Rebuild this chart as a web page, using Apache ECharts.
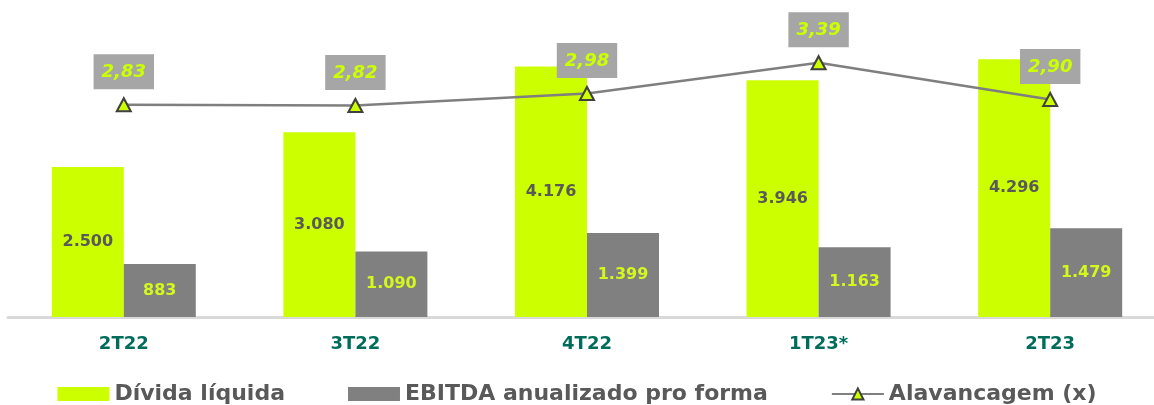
<!DOCTYPE html>
<html>
<head>
<meta charset="utf-8">
<script src="https://cdn.jsdelivr.net/npm/echarts@6/dist/echarts.min.js"></script>
<style>
  html, body { margin: 0; padding: 0; background: #fff; }
  #chart { width: 1154px; height: 405px; }
</style>
</head>
<body>
<div id="chart"></div>
<script>
const categories = ['2T22', '3T22', '4T22', '1T23*', '2T23'];
const netDebt = [2500, 3080, 4176, 3946, 4296];
const ebitda = [883, 1090, 1399, 1163, 1479];
const leverage = [2.83, 2.82, 2.98, 3.39, 2.90];

const FONT = '"DejaVu Sans", sans-serif';
const GREEN = '#ccff00';
const GRAY = '#808080';

function thousands(v) {
  return String(v).replace(/\B(?=(\d{3})+(?!\d))/g, '.');
}

const chart = echarts.init(document.getElementById('chart'));
chart.setOption({
  animation: false,
  textStyle: { fontFamily: FONT },
  grid: { left: 8, width: 1158, top: 17, bottom: 88, containLabel: false, outerBoundsMode: 'none' },
  legend: {
    top: 378,
    left: 'center',
    itemWidth: 52,
    itemHeight: 14,
    itemGap: 63,
    textStyle: { fontSize: 22, fontWeight: 'bold', color: '#595959', fontFamily: FONT },
    data: [
      { name: 'Dívida líquida', icon: 'rect' },
      { name: 'EBITDA anualizado pro forma', icon: 'rect' },
      { name: 'Alavancagem (x)' }
    ]
  },
  xAxis: {
    type: 'category',
    data: categories,
    axisLine: { lineStyle: { color: '#d9d9d9', width: 3 } },
    axisTick: { show: false },
    axisLabel: { color: '#006d5b', fontSize: 18, fontWeight: 'bold', margin: 18, fontFamily: FONT }
  },
  yAxis: [
    { type: 'value', min: 0, max: 5000, show: false, splitLine: { show: false } },
    { type: 'value', min: 0, max: 4, show: false, splitLine: { show: false } }
  ],
  series: [
    {
      name: 'Dívida líquida',
      type: 'bar',
      data: netDebt,
      barWidth: 72,
      barGap: '0%',
      itemStyle: { color: GREEN },
      label: {
        show: true, position: 'inside', color: '#595959',
        fontSize: 16, fontWeight: 'bold', fontFamily: FONT,
        formatter: p => thousands(p.value)
      }
    },
    {
      name: 'EBITDA anualizado pro forma',
      type: 'bar',
      data: ebitda,
      barWidth: 72,
      barGap: '0%',
      itemStyle: { color: GRAY },
      label: {
        show: true, position: 'inside', color: '#d4f71c',
        fontSize: 16, fontWeight: 'bold', fontFamily: FONT,
        formatter: p => thousands(p.value)
      }
    },
    {
      name: 'Alavancagem (x)',
      type: 'line',
      yAxisIndex: 1,
      data: leverage,
      symbol: 'triangle',
      symbolSize: [14, 13],
      lineStyle: { color: '#7f7f7f', width: 2.5 },
      itemStyle: { color: GREEN, borderColor: '#404040', borderWidth: 2 },
      label: {
        show: true, position: 'top', distance: 8,
        backgroundColor: '#a6a6a6',
        padding: [9, 8, 8, 8],
        color: '#ccff00', fontSize: 18, fontWeight: 'bold', fontStyle: 'italic', fontFamily: FONT,
        formatter: p => p.value.toFixed(2).replace('.', ',')
      },
      z: 5
    }
  ]
});
</script>
</body>
</html>
